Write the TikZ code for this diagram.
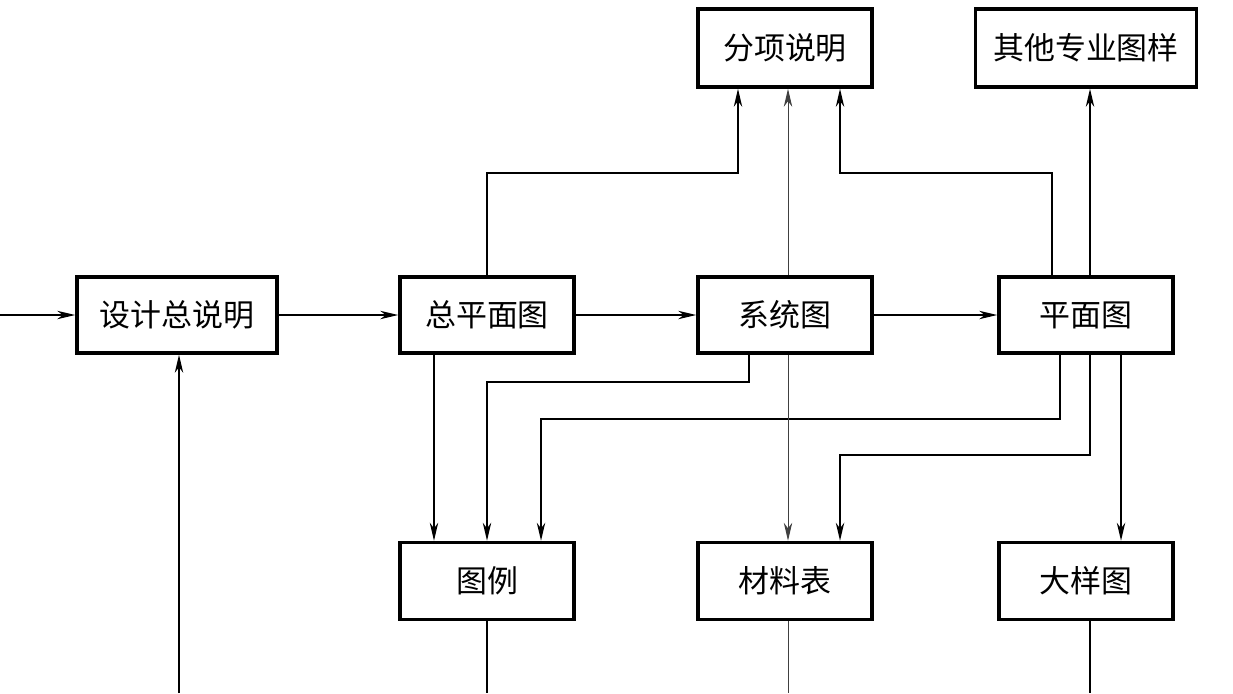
\documentclass[tikz,border=0pt]{standalone}
\usepackage{fontspec}
\newfontfamily\cjk{Noto Sans CJK SC}
\usetikzlibrary{arrows.meta,positioning}
\tikzset{
  block/.style={draw,line width=2.5pt,minimum width=4.35cm,minimum height=1.9cm,
    inner sep=0pt,font=\cjk\fontsize{22}{26}\selectfont},
  flow/.style={-{Stealth[length=4.5mm,width=2.1mm,inset=1.4mm]},line width=1.1pt},
  thinflow/.style={flow,line width=0.7pt,black!75},
  plain/.style={line width=1.1pt}
}
\begin{document}
\begin{tikzpicture}[x=0.025cm,y=-0.025cm]
  \useasboundingbox (0,0) rectangle (1233,693);
  % main row
  \node[block,minimum width=5cm] (sj) at (177,315) {设计总说明};
  \node[block] (zpm) at (487,315) {总平面图};
  \node[block] (xt) at (785,315) {系统图};
  \node[block] (pm) at (1086,315) {平面图};
  % top row
  \node[block,minimum height=1.95cm] (fx) at (785,48) {分项说明};
  \node[block,minimum width=5.525cm,minimum height=1.95cm] (qt) at (1086,48) {其他专业图样};
  % bottom row
  \node[block,minimum height=1.925cm] (tl) at (487,581) {图例};
  \node[block,minimum height=1.925cm] (cl) at (785,581) {材料表};
  \node[block,minimum height=1.925cm] (dy) at (1086,581) {大样图};
  \coordinate (in) at (0,315);
  \coordinate (bl) at (179,693);

  \draw[flow] (in) -- (sj.west);
  \draw[flow] (sj.east) -- (zpm.west);
  \draw[flow] (zpm.east) -- (xt.west);
  \draw[flow] (xt.east) -- (pm.west);
  \draw[flow] (bl) -- (bl |- sj.south);

  % up to the top row
  \draw[flow] (zpm.north) -- ++(0,-102) -| ([xshift=-1.175cm]fx.south);
  \draw[thinflow] ([xshift=0.075cm]xt.north) -- ([xshift=0.075cm]fx.south);
  \draw[flow] ([xshift=-0.85cm]pm.north) -- ++(0,-102) -| ([xshift=1.375cm]fx.south);
  \draw[flow] ([xshift=0.1cm]pm.north) -- ([xshift=0.1cm]qt.south);

  % down to the bottom row
  \draw[flow] ([xshift=-1.325cm]zpm.south) -- ([xshift=-1.325cm]tl.north);
  \draw[flow] ([xshift=-0.9cm]xt.south) -- ++(0,27) -| (tl.north);
  \draw[flow] ([xshift=-0.65cm]pm.south) -- ++(0,64) -| ([xshift=1.35cm]tl.north);
  \draw[thinflow] ([xshift=0.075cm]xt.south) -- ([xshift=0.075cm]cl.north);
  \draw[flow] ([xshift=0.1cm]pm.south) -- ++(0,100) -| ([xshift=1.375cm]cl.north);
  \draw[flow] ([xshift=0.875cm]pm.south) -- ([xshift=0.875cm]dy.north);

  % leads off the bottom
  \draw[plain] (tl.south) -- (tl.south |- bl);
  \draw[plain,line width=0.7pt,black!75] ([xshift=0.075cm]cl.south) -- ([xshift=0.075cm]cl.south |- bl);
  \draw[plain] ([xshift=0.1cm]dy.south) -- ([xshift=0.1cm]dy.south |- bl);
\end{tikzpicture}
\end{document}
